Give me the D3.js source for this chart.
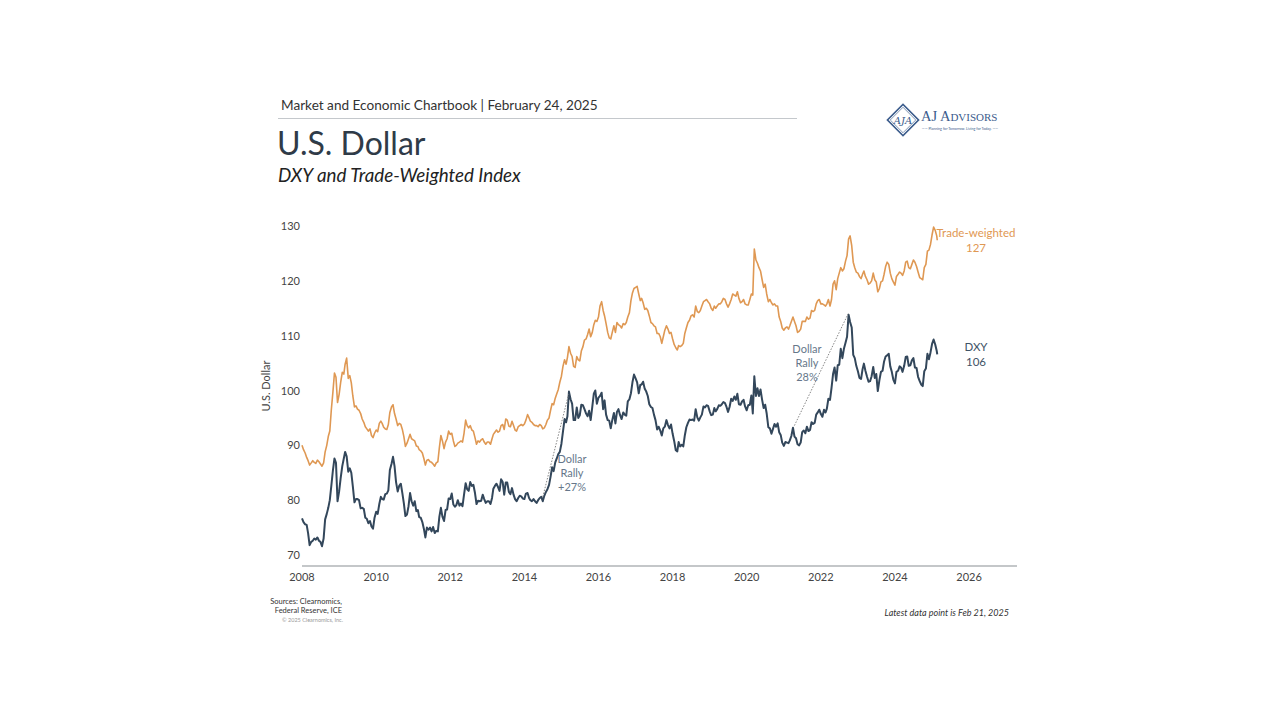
<!DOCTYPE html>
<html>
<head>
<meta charset="utf-8">
<script src="https://cdn.jsdelivr.net/npm/d3@7"></script>
<style>
  html, body { margin: 0; padding: 0; background: #ffffff; }
  svg { display: block; }
</style>
</head>
<body>
<script>
// ---------------- DATA ----------------
// Semi-monthly observations (1st and 16th of each month), starting Jan 1, 2008.
const startDate = "2008-01-01";
const latestDate = "2025-02-21";

// U.S. Dollar Index (DXY)
const dxyValues = [
  76.7,
  // 2008
  76.0, 75.6, 75.5, 74.0, 71.8, 72.4, 72.6, 73.0, 72.8, 73.2, 72.6, 72.4,
  71.6, 73.0, 76.5, 77.5, 78.6, 80.0, 82.6, 85.5, 87.6, 86.8, 79.8, 81.6,
  // 2009
  84.0, 86.2, 87.6, 88.8, 88.0, 85.2, 85.8, 85.0, 82.5, 79.6, 80.2, 80.2,
  80.0, 78.5, 78.6, 78.4, 76.8, 76.6, 75.8, 76.2, 75.2, 74.8, 76.8, 77.9,
  // 2010
  77.5, 79.3, 80.6, 80.2, 80.1, 81.1, 81.2, 81.8, 85.5, 86.6, 87.9, 86.2,
  83.3, 81.6, 82.6, 83.0, 81.3, 79.4, 77.1, 77.4, 78.9, 81.3, 79.8, 79.0,
  // 2011
  79.8, 78.0, 78.2, 76.9, 76.8, 76.0, 74.8, 73.2, 75.0, 74.6, 75.0, 74.3,
  75.1, 74.0, 74.4, 74.3, 77.0, 78.6, 77.0, 76.2, 78.2, 78.3, 80.3, 80.2,
  // 2012
  81.2, 79.2, 78.8, 79.1, 80.0, 79.0, 79.4, 78.9, 81.0, 83.1, 82.0, 81.7,
  83.3, 82.6, 82.8, 81.3, 79.3, 79.9, 79.8, 79.9, 81.0, 80.2, 79.5, 79.8,
  // 2013
  79.8, 79.3, 80.4, 82.1, 82.6, 83.0, 82.4, 81.7, 83.8, 83.3, 81.0, 83.2,
  83.2, 81.5, 81.1, 82.2, 81.0, 80.2, 79.8, 80.4, 80.8, 80.7, 80.3, 80.2,
  // 2014
  81.2, 81.3, 80.4, 80.0, 79.8, 80.2, 79.8, 79.5, 80.0, 80.4, 80.6, 79.8,
  80.8, 81.5, 82.0, 82.8, 84.3, 86.0, 85.3, 86.9, 87.6, 88.4, 88.8, 90.3,
  // 2015
  92.5, 94.8, 94.2, 95.3, 99.8, 98.4, 97.6, 94.6, 94.6, 96.9, 95.0, 95.5,
  97.4, 97.3, 96.6, 95.8, 95.3, 96.3, 94.6, 97.0, 99.4, 100.0, 97.6, 98.7,
  // 2016
  99.0, 99.6, 96.6, 98.2, 95.6, 94.6, 94.5, 93.1, 94.6, 95.9, 94.0, 96.1,
  96.6, 95.5, 94.8, 96.0, 95.6, 95.4, 98.0, 98.4, 99.5, 101.5, 102.9, 102.2,
  // 2017
  101.5, 99.5, 101.0, 101.1, 101.6, 100.3, 99.8, 99.0, 97.5, 97.0, 96.8, 95.6,
  94.6, 92.9, 93.4, 92.7, 91.8, 93.1, 93.4, 94.6, 93.7, 93.1, 93.8, 92.1,
  // 2018
  90.8, 89.1, 88.9, 90.6, 89.8, 90.1, 89.8, 91.8, 93.3, 94.1, 94.7, 94.6,
  94.7, 94.5, 96.6, 95.1, 94.5, 95.1, 95.6, 97.1, 96.9, 97.3, 97.2, 96.2,
  // 2019
  95.5, 95.6, 96.8, 96.2, 96.6, 97.3, 97.2, 97.5, 97.9, 97.7, 97.0, 96.1,
  97.0, 98.5, 98.1, 98.9, 98.3, 99.4, 97.5, 97.4, 98.0, 98.3, 97.1, 96.4,
  // 2020
  97.3, 97.4, 99.1, 95.8, 102.6, 99.0, 100.4, 99.0, 100.2, 98.3, 96.8, 97.4,
  95.8, 93.3, 93.1, 92.1, 93.0, 93.9, 93.4, 94.0, 92.4, 91.9, 90.5, 89.9,
  // 2021
  90.6, 90.5, 90.4, 90.9, 91.7, 93.2, 91.6, 91.3, 90.2, 90.0, 90.5, 92.4,
  92.7, 92.2, 93.4, 92.6, 92.8, 94.2, 93.9, 94.1, 95.6, 96.0, 96.5, 95.7,
  // 2022
  95.2, 96.5, 96.0, 96.7, 98.5, 98.3, 100.5, 103.0, 104.2, 101.8, 104.6, 104.7,
  107.6, 105.9, 107.6, 108.7, 109.8, 113.8, 112.5, 111.5, 106.5, 105.9, 104.5, 103.5,
  // 2023
  102.3, 102.1, 103.9, 104.9, 103.6, 102.5, 101.6, 101.7, 102.6, 104.3, 102.3, 103.0,
  99.9, 101.9, 103.4, 103.6, 105.3, 106.2, 106.4, 106.7, 104.4, 103.4, 102.0, 101.3,
  // 2024
  103.4, 103.6, 104.4, 104.2, 103.4, 104.5, 106.1, 106.2, 104.5, 104.6, 105.5, 105.9,
  104.2, 104.1, 102.5, 101.7, 101.1, 100.8, 103.5, 104.0, 106.7, 105.7, 106.9, 108.5,
  // 2025
  109.3, 108.4, 107.2, 106.6
];

// Nominal Broad Trade-Weighted Dollar Index (Federal Reserve)
const twiValues = [
  90.0,
  // 2008
  89.2, 88.6, 87.8, 87.2, 86.4, 86.8, 87.2, 86.9, 86.7, 87.3, 87.0, 86.6,
  86.2, 86.8, 88.8, 90.0, 91.6, 92.6, 96.5, 99.8, 103.2, 102.4, 97.8, 99.3,
  // 2009
  101.5, 103.3, 103.0, 104.8, 105.9, 102.2, 102.7, 101.4, 99.0, 97.0, 97.2, 96.6,
  96.4, 95.8, 94.8, 94.2, 93.4, 93.0, 92.6, 93.0, 91.8, 91.4, 92.2, 92.8,
  // 2010
  92.5, 94.0, 94.4, 94.0, 93.3, 93.0, 92.9, 93.8, 96.0, 97.0, 97.4, 95.8,
  94.8, 93.6, 94.0, 93.8, 92.9, 91.6, 89.8, 90.4, 91.2, 92.0, 91.2, 91.0,
  // 2011
  90.8, 89.9, 89.8, 89.2, 89.0, 88.6, 87.6, 86.4, 87.3, 87.4, 87.0, 86.9,
  86.6, 86.2, 86.8, 87.0, 89.6, 91.8, 90.8, 89.4, 90.6, 91.2, 92.6, 92.0,
  // 2012
  92.2, 90.8, 89.8, 90.0, 90.4, 90.6, 90.8, 90.6, 92.2, 94.6, 93.6, 93.2,
  93.6, 92.8, 92.6, 91.4, 90.2, 90.8, 90.6, 91.0, 91.2, 90.6, 90.2, 90.6,
  // 2013
  90.6, 90.2, 91.2, 92.0, 92.4, 92.8, 92.4, 92.6, 93.6, 93.8, 92.9, 94.8,
  94.6, 93.5, 93.4, 94.4, 93.6, 92.8, 92.6, 93.4, 93.6, 93.8, 93.6, 93.9,
  // 2014
  94.6, 95.6, 95.0, 94.4, 94.2, 93.8, 93.6, 93.6, 93.4, 93.8, 93.6, 93.0,
  93.2, 93.8, 94.6, 95.0, 96.4, 97.6, 97.4, 98.6, 99.4, 100.2, 101.5, 102.6,
  // 2015
  104.4, 105.6, 104.8, 106.0, 108.0, 106.8, 106.2, 104.4, 104.2, 106.2, 105.6, 105.4,
  107.2, 108.0, 109.2, 109.4, 110.2, 111.2, 109.8, 110.6, 112.0, 112.8, 112.6, 113.4,
  // 2016
  115.4, 116.2, 114.6, 113.6, 112.2, 110.6, 109.6, 109.4, 110.6, 111.8, 110.6, 112.4,
  112.0, 111.8, 111.4, 112.2, 112.0, 112.4, 113.4, 114.2, 116.4, 117.8, 118.6, 118.8,
  // 2017
  119.0, 117.6, 116.4, 116.8, 116.0, 114.8, 115.0, 114.6, 113.6, 112.4, 112.2, 111.8,
  111.6, 110.4, 110.4, 109.8, 108.6, 109.8, 111.0, 111.8, 111.2, 110.4, 110.6, 109.4,
  // 2018
  108.4, 107.8, 107.4, 108.2, 108.0, 108.2, 108.6, 110.4, 111.4, 112.4, 112.8, 113.6,
  113.8, 113.4, 115.4, 114.4, 114.2, 114.6, 115.4, 116.2, 116.4, 116.6, 116.2, 115.8,
  // 2019
  115.0, 114.6, 115.4, 115.0, 115.4, 115.8, 115.8, 116.2, 116.8, 116.6, 115.8, 115.2,
  115.8, 116.6, 117.6, 117.4, 117.2, 118.0, 116.8, 116.0, 116.2, 116.6, 115.8, 115.6,
  // 2020
  115.6, 116.6, 117.6, 117.4, 125.8, 123.8, 123.2, 122.4, 121.8, 120.2, 118.8, 119.4,
  117.6, 116.2, 116.6, 116.0, 115.6, 115.8, 115.4, 115.4, 113.4, 112.6, 111.4, 111.0,
  // 2021
  111.4, 111.6, 111.2, 111.8, 112.6, 113.4, 112.6, 111.8, 110.6, 110.8, 111.2, 112.6,
  112.6, 112.6, 113.4, 113.0, 113.2, 114.6, 114.4, 114.6, 115.8, 116.4, 116.6, 115.8,
  // 2022
  115.8, 115.6, 115.4, 115.8, 116.6, 115.4, 116.6, 119.4, 120.0, 118.4, 120.4, 121.4,
  122.4, 121.8, 122.2, 123.6, 124.6, 127.6, 128.2, 126.4, 123.4, 122.4, 121.6, 121.4,
  // 2023
  120.8, 120.4, 121.2, 121.8, 120.8, 120.2, 119.4, 119.6, 120.0, 121.4, 120.2, 119.8,
  118.0, 118.6, 119.8, 120.0, 121.2, 122.6, 123.4, 123.0, 121.4, 120.4, 119.8, 119.2,
  // 2024
  120.8, 121.2, 121.6, 121.4, 121.0, 121.8, 123.4, 123.6, 122.4, 122.2, 123.0, 123.8,
  123.4, 122.6, 121.6, 120.6, 120.4, 120.2, 122.4, 123.0, 125.4, 125.6, 126.6, 128.4,
  // 2025
  129.8, 129.2, 128.2, 127.4
];

const yTicks = [70, 80, 90, 100, 110, 120, 130];
const xTickYears = [2008, 2010, 2012, 2014, 2016, 2018, 2020, 2022, 2024, 2026];

const seriesNames = ["Trade-weighted", "DXY"];
const seriesLatest = ["127", "106"];
// label anchors (date, value) for end labels
const seriesLabelAt = [["2026-03-10", 128.7], ["2026-03-10", 107.9]];

// Dollar rally annotations: start/end of dotted line (date, value), label anchor and lines
const rallyFrom = [["2014-07-01", 80.6], ["2021-04-15", 93.6]];
const rallyTo = [["2015-03-13", 99.3], ["2022-09-27", 114.0]];
const rallyLabelAt = [["2015-04-15", 87.5], ["2021-08-17", 107.6]];
const rallyLines = [["Dollar", "Rally", "+27%"], ["Dollar", "Rally", "28%"]];

// ---------------- BUILD ----------------
const W = 1280, H = 720;
const FONT = "Lato, 'Open Sans', sans-serif";
const ORANGE = "#df9853";
const NAVY = "#33475b";
const ANNOT = "#66778a";

const parse = d3.timeParse("%Y-%m-%d");
const t0 = parse(startDate);
function seriesFrom(values) {
  return values.map((v, i) => {
    let d;
    if (i === values.length - 1) d = parse(latestDate);
    else {
      const m = Math.floor(i / 2);
      d = new Date(t0.getFullYear(), t0.getMonth() + m, (i % 2) ? 16 : 1);
    }
    return { date: d, value: v };
  });
}
const dxy = seriesFrom(dxyValues);
const twi = seriesFrom(twiValues);

const svg = d3.select("body").append("svg").attr("width", W).attr("height", H)
  .style("font-family", FONT);

const x = d3.scaleTime()
  .domain([new Date(2008, 0, 1), new Date(2027, 3, 18)])
  .range([302, 1017]);
const y = d3.scaleLinear().domain([70, 130]).range([555, 226]);
const yBottom = 566;

// ---------- header ----------
svg.append("text").attr("x", 281).attr("y", 110)
  .attr("font-size", 13.6).attr("fill", "#333")
  .text("Market and Economic Chartbook | February 24, 2025");
svg.append("line").attr("x1", 278).attr("x2", 797).attr("y1", 118.5).attr("y2", 118.5)
  .attr("stroke", "#c4c8cc").attr("stroke-width", 1.2);
svg.append("text").attr("x", 277).attr("y", 155)
  .attr("font-size", 32).attr("fill", "#2f3b48")
  .text("U.S. Dollar");
svg.append("text").attr("x", 278).attr("y", 182)
  .attr("font-size", 18.8).attr("font-style", "italic").attr("fill", "#222")
  .text("DXY and Trade-Weighted Index");

// ---------- logo ----------
const logo = svg.append("g").attr("transform", "translate(903,120)");
logo.append("rect").attr("x", -11).attr("y", -11).attr("width", 22).attr("height", 22)
  .attr("transform", "rotate(45)").attr("fill", "none").attr("stroke", "#3b5c8c").attr("stroke-width", 1.6);
logo.append("rect").attr("x", -9).attr("y", -9).attr("width", 18).attr("height", 18)
  .attr("transform", "rotate(45)").attr("fill", "none").attr("stroke", "#3b5c8c").attr("stroke-width", 0.6);
logo.append("text").attr("x", 0).attr("y", 3.5).attr("text-anchor", "middle")
  .attr("font-family", "'DejaVu Serif', serif").attr("font-style", "italic")
  .attr("font-size", 10).attr("fill", "#3b5c8c").text("AJA");
const lt = svg.append("text").attr("x", 921).attr("y", 121)
  .attr("font-family", "'Liberation Serif', 'DejaVu Serif', serif").attr("fill", "#3b5c8c");
lt.append("tspan").attr("font-size", 14.5).text("AJ A");
lt.append("tspan").attr("font-size", 11).text("DVISORS");
svg.append("text").attr("x", 960).attr("y", 129.5).attr("text-anchor", "middle")
  .attr("font-size", 3.6).attr("fill", "#3b5c8c")
  .text("—— Planning for Tomorrow. Living for Today. ——");

// ---------- axes ----------
svg.append("line").attr("x1", 302).attr("x2", 1017).attr("y1", yBottom).attr("y2", yBottom)
  .attr("stroke", "#8a8f94").attr("stroke-width", 1.2);

svg.append("g").selectAll("text").data(xTickYears).join("text")
  .attr("x", d => x(new Date(d, 0, 1)))
  .attr("y", 581)
  .attr("text-anchor", "middle")
  .attr("font-size", 11).attr("fill", "#444")
  .text(d => d);

svg.append("g").selectAll("text").data(yTicks).join("text")
  .attr("x", 300)
  .attr("y", d => y(d) + 4)
  .attr("text-anchor", "end")
  .attr("font-size", 11).attr("fill", "#444")
  .text(d => d);

svg.append("text")
  .attr("transform", "translate(270,386) rotate(-90)")
  .attr("text-anchor", "middle")
  .attr("font-size", 11).attr("fill", "#444")
  .text("U.S. Dollar");

// ---------- lines ----------
const line = d3.line().x(d => x(d.date)).y(d => y(d.value)).curve(d3.curveLinear);
svg.append("path").datum(twi).attr("d", line)
  .attr("fill", "none").attr("stroke", ORANGE).attr("stroke-width", 1.6)
  .attr("stroke-linejoin", "round");
svg.append("path").datum(dxy).attr("d", line)
  .attr("fill", "none").attr("stroke", NAVY).attr("stroke-width", 2)
  .attr("stroke-linejoin", "round");

// ---------- rally annotations ----------
rallyFrom.forEach((f, i) => {
  const t = rallyTo[i];
  svg.append("line")
    .attr("x1", x(parse(f[0]))).attr("y1", y(f[1]))
    .attr("x2", x(parse(t[0]))).attr("y2", y(t[1]))
    .attr("stroke", "#777").attr("stroke-width", 0.9)
    .attr("stroke-dasharray", "1.5,1.5");
  const la = rallyLabelAt[i];
  const g = svg.append("text")
    .attr("x", x(parse(la[0]))).attr("y", y(la[1]))
    .attr("text-anchor", "middle").attr("font-size", 11).attr("fill", ANNOT);
  rallyLines[i].forEach((s, k) => {
    g.append("tspan").attr("x", x(parse(la[0]))).attr("dy", k === 0 ? 4 : 14.2).text(s);
  });
});

// ---------- end labels ----------
const labelColors = [ORANGE, "#3f5366"];
seriesNames.forEach((name, i) => {
  const la = seriesLabelAt[i];
  const t = svg.append("text")
    .attr("x", x(parse(la[0]))).attr("y", y(la[1]))
    .attr("text-anchor", "middle").attr("font-size", 11.5).attr("fill", labelColors[i]);
  t.append("tspan").attr("x", x(parse(la[0]))).attr("dy", 4).text(name);
  t.append("tspan").attr("x", x(parse(la[0]))).attr("dy", 15).text(seriesLatest[i]);
});

// ---------- footer ----------
const src = svg.append("text").attr("text-anchor", "end").attr("font-size", 7.5).attr("fill", "#333");
src.append("tspan").attr("x", 342).attr("y", 604).text("Sources: Clearnomics,");
src.append("tspan").attr("x", 342).attr("y", 613).text("Federal Reserve, ICE");
svg.append("text").attr("x", 343).attr("y", 622).attr("text-anchor", "end")
  .attr("font-size", 5.5).attr("fill", "#999").text("© 2025 Clearnomics, Inc.");
svg.append("text").attr("x", 1009).attr("y", 616).attr("text-anchor", "end")
  .attr("font-size", 9).attr("font-style", "italic").attr("fill", "#333")
  .text("Latest data point is Feb 21, 2025");
</script>
</body>
</html>
